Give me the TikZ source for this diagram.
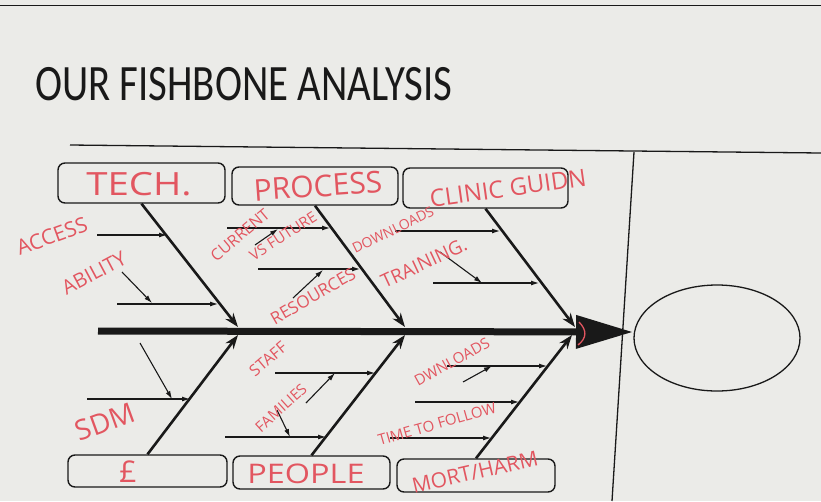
\documentclass[tikz,border=0pt]{standalone}
\usepackage{fontspec}
\setmainfont{Carlito}
\newfontfamily\handfont{Open Sans}
\usetikzlibrary{arrows.meta,shapes.geometric}
\definecolor{hred}{RGB}{226,86,96}
\definecolor{ink}{RGB}{25,25,25}
\definecolor{paper}{RGB}{235,235,232}
\tikzset{
  catbox/.style={draw=ink, line width=1.4pt, rounded corners=7pt, inner sep=0pt},
  bone/.style={draw=ink, line width=2.6pt, -{Stealth[length=14pt,width=10pt]}},
  sub/.style={draw=ink, line width=1.1pt, -{Latex[length=8pt,width=5pt]}},
  hand/.style={text=hred, inner sep=0pt, font=\handfont\fontsize{#1}{#1}\selectfont},
}
\begin{document}
\begin{tikzpicture}[x=1pt,y=-1pt]
\fill[paper] (0,0) rectangle (821,501);
\useasboundingbox (0,0) rectangle (821,501);
\draw[ink, line width=1pt] (0,5) -- (821,5);

% title
\node[anchor=base west, inner sep=0pt, text=ink, font=\fontsize{51}{51}\selectfont] (title) at (35,100) {\scalebox{0.8}[1]{OUR FISHBONE ANALYSIS}};

% frame lines
\coordinate (hl) at (70,145);
\coordinate (hr) at (821,153);
\coordinate (vt) at (634,152);
\coordinate (vb) at (612,501);
\draw[ink, line width=1.3pt] (hl) -- (hr);
\draw[ink, line width=1.3pt] (vt) -- (vb);

% category boxes
\node[catbox, minimum width=167pt, minimum height=40pt] (tech) at (141.5,183) {};
\node[catbox, minimum width=166pt, minimum height=38pt] (process) at (315,186) {};
\node[catbox, minimum width=165pt, minimum height=40pt] (clinic) at (485.5,188) {};
\node[catbox, minimum width=159pt, minimum height=32pt] (money) at (147.5,471) {};
\node[catbox, minimum width=157pt, minimum height=33pt] (people) at (311.5,472.5) {};
\node[catbox, minimum width=158pt, minimum height=33pt] (mort) at (476,475.5) {};

% effect
\node[draw=ink, line width=1.3pt, ellipse, minimum width=166pt, minimum height=106pt] (effect) at (717,338) {};

% spine
\coordinate (tail) at (98,331);
\coordinate (head) at (632,332);
\draw[ink, line width=7pt, -{Triangle[length=56pt,width=34pt,line width=0pt]}] (tail) -- (head);

% joints on spine
\coordinate (j1t) at (238,327);
\coordinate (j2t) at (405,327);
\coordinate (j3t) at (575,327);
\coordinate (j1b) at (238,335);
\coordinate (j2b) at (405,335);
\coordinate (j3b) at (572,335);

\draw[bone] (tech.south) -- (j1t);
\draw[bone] (process.south) -- (j2t);
\draw[bone] (clinic.south) -- (j3t);
\draw[bone] (money.north) -- (j1b);
\draw[bone] (people.north) -- (j2b);
\draw[bone] (mort.north) -- (j3b);

% sub-bones: tech
\coordinate (t1a) at (97,235);  \coordinate (t1b) at (167,235);
\coordinate (t2a) at (117,304); \coordinate (t2b) at (218,304);
\draw[sub] (t1a) -- (t1b);
\draw[sub] (t2a) -- (t2b);
% process
\coordinate (p1a) at (227,228); \coordinate (p1b) at (330,228);
\coordinate (p2a) at (258,269); \coordinate (p2b) at (360,269);
\draw[sub] (p1a) -- (p1b);
\draw[sub] (p2a) -- (p2b);
% clinic
\coordinate (c1a) at (395,231); \coordinate (c1b) at (500,231);
\coordinate (c2a) at (433,283); \coordinate (c2b) at (539,283);
\draw[sub] (c1a) -- (c1b);
\draw[sub] (c2a) -- (c2b);
% money
\coordinate (m1a) at (87,399); \coordinate (m1b) at (190,399);
\draw[sub] (m1a) -- (m1b);
% people
\coordinate (e1a) at (275,373); \coordinate (e1b) at (375,373);
\coordinate (e2a) at (225,437); \coordinate (e2b) at (326,437);
\draw[sub] (e1a) -- (e1b);
\draw[sub] (e2a) -- (e2b);
% mort
\coordinate (r1a) at (447,366); \coordinate (r1b) at (547,366);
\coordinate (r2a) at (415,402); \coordinate (r2b) at (519,402);
\coordinate (r3a) at (390,438); \coordinate (r3b) at (491,438);
\draw[sub] (r1a) -- (r1b);
\draw[sub] (r2a) -- (r2b);
\draw[sub] (r3a) -- (r3b);

% small cause arrows
\coordinate (s1a) at (122,272); \coordinate (s1b) at (152,303);
\coordinate (s2a) at (255,245); \coordinate (s2b) at (278,229);
\coordinate (s3a) at (293,298); \coordinate (s3b) at (323,270);
\coordinate (s4a) at (440,252); \coordinate (s4b) at (482,283);
\coordinate (s5a) at (140,343); \coordinate (s5b) at (172,399);
\coordinate (s6a) at (306,403); \coordinate (s6b) at (335,373);
\coordinate (s7a) at (277,410); \coordinate (s7b) at (290,437);
\coordinate (s8a) at (463,382); \coordinate (s8b) at (492,366);
\foreach \s in {1,...,8} \draw[sub] (s\s a) -- (s\s b);

% handwritten labels
\node[hand=32] (techL) at (139,184) {\scalebox{1.2}[1]{TECH.}};
\node[hand=30, rotate=4] (procL) at (318,186) {PROCESS};
\node[hand=24, rotate=8] (clinL) at (508,188) {CLINIC GUIDN};
\node[hand=21, rotate=20] (accL) at (52,236) {ACCESS};
\node[hand=20, rotate=28] (abiL) at (94,273) {ABILITY};
\node[hand=16, rotate=40] (curL) at (240,235) {CURRENT};
\node[hand=15, rotate=33] (vsL) at (283,236) {VS FUTURE};
\node[hand=17, rotate=30] (resL) at (313,296) {RESOURCES};
\node[hand=14, rotate=26] (dlL) at (393,230) {DOWNLOADS};
\node[hand=19, rotate=25] (trL) at (424,263) {TRAINING.};
\node[hand=16, rotate=40] (staffL) at (268,359) {STAFF};
\node[hand=15, rotate=42] (famL) at (281,408) {FAMILIES};
\node[hand=28, rotate=20] (sdmL) at (105,422) {SDM};
\node[hand=27] (peoL) at (306,474) {\scalebox{1.2}[1]{PEOPLE}};
\node[hand=30] (moneyL) at (128,472) {£};
\node[hand=21, rotate=13] (mortL) at (475,472) {MORT/HARM};
\node[hand=15, rotate=29] (dl2L) at (452,362) {DWNLOADS};
\node[hand=15, rotate=16] (timeL) at (437,424) {TIME TO FOLLOW};
\draw[hred, line width=1.3pt] (579,322) .. controls (587,330) and (587,338) .. (578,345);
\end{tikzpicture}
\end{document}
